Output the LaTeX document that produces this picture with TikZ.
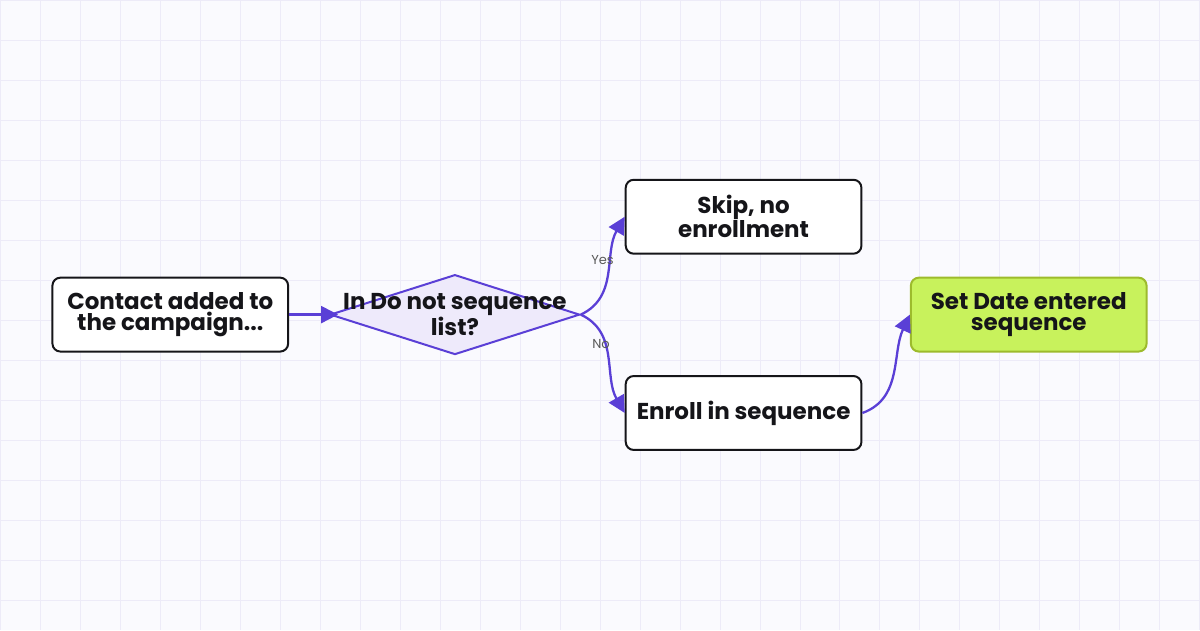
\documentclass[tikz,border=0pt]{standalone}
\usepackage{fontspec}
\setmainfont{Poppins}
\usetikzlibrary{arrows.meta,positioning,shapes.geometric}
\definecolor{paper}{HTML}{FAFAFE}
\definecolor{gridline}{HTML}{EDEBF8}
\definecolor{ink}{HTML}{151519}
\definecolor{flow}{HTML}{5A3FD6}
\definecolor{lilac}{HTML}{EEEAFB}
\definecolor{lime}{HTML}{C8F25C}
\definecolor{olive}{HTML}{9DBB2C}

\begin{document}
\begin{tikzpicture}[x=1pt,y=-1pt]
\tikzset{
    box/.style={rectangle,draw=ink,line width=2pt,rounded corners=8pt,fill=white,
        minimum width=236pt,minimum height=74pt,inner sep=0pt,align=center,text=ink,
        font=\fontsize{23}{21}\selectfont\bfseries},
    decision/.style={diamond,draw=flow,line width=2pt,fill=lilac,
        minimum width=250pt,minimum height=80pt,inner sep=0pt},
    goal/.style={box,draw=olive,fill=lime},
    edge/.style={draw=flow,line width=2.3pt,-{Triangle[length=17pt,width=17pt]}},
    cond/.style={text=black!65,font=\fontsize{13}{14}\selectfont,inner sep=0pt}
}
% background
\fill[paper] (0,0) rectangle (1200,630);
\foreach \x in {0,40,...,1200} \draw[gridline,line width=1pt] (\x+0.5,0) -- (\x+0.5,630);
\foreach \y in {0,40,...,600} \draw[gridline,line width=1pt] (0,\y+0.5) -- (1200,\y+0.5);
\useasboundingbox (0,0) rectangle (1200,630);
  % vertices
\node[box] (1) at (170,314.5) {Contact added to\\the campaign...};
\node[decision,label={[align=center,text=ink,font=\fontsize{23}{21}\selectfont\bfseries]center:In Do not sequence\\list?}] (2) at (455,314.5) {};
\node[box] (3) at (744,216.5) {Skip, no\\enrollment};
\node[box] (4) at (744,413) {Enroll in sequence};
\node[goal] (5) at (1029.5,314.5) {Set Date entered\\sequence};
% edges
\path
(1.east) edge[edge,shorten >=-9pt] (2.west)
(2.east) edge[edge,out=25,in=-120] node[cond,pos=0.62,xshift=-9pt] {Yes} (3.west)
(2.east) edge[edge,out=-25,in=120] node[cond,pos=0.38,xshift=-5pt] {No} (4.west)
(4.east) edge[edge,out=20,in=-115] (5.west)
;
\end{tikzpicture}
\end{document}
